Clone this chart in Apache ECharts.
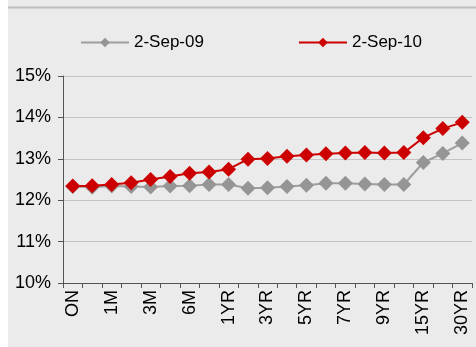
<!DOCTYPE html>
<html>
<head>
<meta charset="utf-8">
<script src="https://cdn.jsdelivr.net/npm/echarts@6/dist/echarts.min.js"></script>
<style>
  html, body { margin: 0; padding: 0; background: #ffffff; }
  #chart { position: absolute; left: 8px; top: 0; width: 468px; height: 347px; }
</style>
</head>
<body>
<div id="chart"></div>
<script>
// Tenor buckets along the curve (every other label is shown)
const tenors = ['ON','1W','1M','2M','3M','4M','6M','9M','1YR','2YR','3YR','4YR','5YR','6YR','7YR','8YR','9YR','10YR','15YR','20YR','30YR'];

// Yield curves, percent
const curve2009 = [12.33, 12.31, 12.34, 12.33, 12.32, 12.34, 12.35, 12.38, 12.38, 12.29, 12.30, 12.33, 12.36, 12.41, 12.41, 12.39, 12.38, 12.38, 12.91, 13.13, 13.38];
const curve2010 = [12.34, 12.35, 12.38, 12.42, 12.50, 12.57, 12.65, 12.68, 12.75, 12.99, 13.01, 13.06, 13.09, 13.12, 13.14, 13.15, 13.14, 13.15, 13.51, 13.73, 13.88];

const seriesNames = ['2-Sep-09', '2-Sep-10'];

// Y axis range, percent
const yMin = 10, yMax = 15, yStep = 1;

const font = '"Liberation Sans", Arial, sans-serif';
const chart = echarts.init(document.getElementById('chart'), null, { renderer: 'canvas' });

chart.setOption({
  backgroundColor: '#ebebeb',
  animation: false,
  graphic: [{
    type: 'line',
    shape: { x1: -3, y1: 7.5, x2: 468, y2: 7.5 },
    style: { stroke: '#bdbdbd', lineWidth: 2 }
  }],
  legend: {
    left: 67,
    top: 29,
    itemWidth: 48,
    itemHeight: 12,
    itemGap: 94,
    textStyle: { fontFamily: font, fontSize: 17, color: '#000' },
    data: seriesNames
  },
  grid: { left: 55, right: 4, top: 76, bottom: 64, containLabel: false },
  xAxis: {
    type: 'category',
    data: tenors,
    boundaryGap: true,
    axisLine: { lineStyle: { color: '#555', width: 1 } },
    axisTick: { show: true, interval: 0, length: 5, lineStyle: { color: '#555' } },
    axisLabel: {
      interval: 1,
      rotate: 90,
      margin: 7,
      fontFamily: font,
      fontSize: 18,
      color: '#000'
    },
    splitLine: { show: false }
  },
  yAxis: {
    type: 'value',
    min: yMin,
    max: yMax,
    interval: yStep,
    axisLine: { show: true, lineStyle: { color: '#555', width: 1 } },
    axisTick: { show: true, length: 5, lineStyle: { color: '#555' } },
    axisLabel: {
      formatter: '{value}%',
      margin: 12,
      fontFamily: font,
      fontSize: 18,
      color: '#000'
    },
    splitLine: { show: true, lineStyle: { color: '#c4c4c4', width: 1.2 } }
  },
  series: [
    {
      name: seriesNames[0],
      type: 'line',
      data: curve2009,
      symbol: 'diamond',
      symbolSize: 15,
      showAllSymbol: true,
      color: '#959595',
      lineStyle: { color: '#9e9e9e', width: 2 },
      itemStyle: { color: '#959595' },
      z: 2
    },
    {
      name: seriesNames[1],
      type: 'line',
      data: curve2010,
      symbol: 'diamond',
      symbolSize: 15,
      showAllSymbol: true,
      color: '#cc0000',
      lineStyle: { color: '#cc0000', width: 2 },
      itemStyle: { color: '#cc0000' },
      z: 3
    }
  ]
});
</script>
</body>
</html>
